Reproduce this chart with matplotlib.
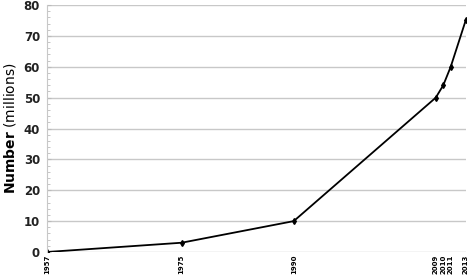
import matplotlib
matplotlib.use("Agg")
import matplotlib.pyplot as plt
from matplotlib.ticker import MultipleLocator

years = [1957, 1975, 1990, 2009, 2010, 2011, 2013]
values = [0, 3, 10, 50, 54, 60, 75]
year_labels = ["1957", "1975", "1990", "2009", "2010", "2011", "2013"]
y_ticks = [0, 10, 20, 30, 40, 50, 60, 70, 80]

fig = plt.figure(figsize=(4.72, 2.79), dpi=100)
ax = fig.add_axes([0.0996, 0.0968, 0.887, 0.8852])

ax.plot(years, values, color="black", linewidth=1.3, marker="d", markersize=3)

ax.set_xlim(1957, 2013)
ax.set_ylim(0, 80)
ax.set_yticks(y_ticks)
ax.set_yticklabels([str(v) for v in y_ticks], fontsize=8.5, fontweight="bold", color="#222222")
ax.yaxis.set_minor_locator(MultipleLocator(2))
ax.set_xticks(years)
ax.set_xticklabels(year_labels, rotation=90, fontsize=5, fontweight="bold")
ax.tick_params(axis="x", length=0, pad=2)
ax.tick_params(axis="y", which="major", direction="in", length=3, color="#bbbbbb", pad=5)
ax.tick_params(axis="y", which="minor", direction="in", length=2, color="#bbbbbb")

ax.grid(axis="y", color="#c8c8c8", linewidth=1.0)
ax.set_axisbelow(True)
for s in ["top", "right"]:
    ax.spines[s].set_visible(False)
ax.spines["bottom"].set_visible(False)
ax.spines["left"].set_color("#c8c8c8")

ax.set_ylabel(r"$\bf{Number}$ (millions)", fontsize=10, labelpad=4)

fig.savefig("out.png", dpi=100)
